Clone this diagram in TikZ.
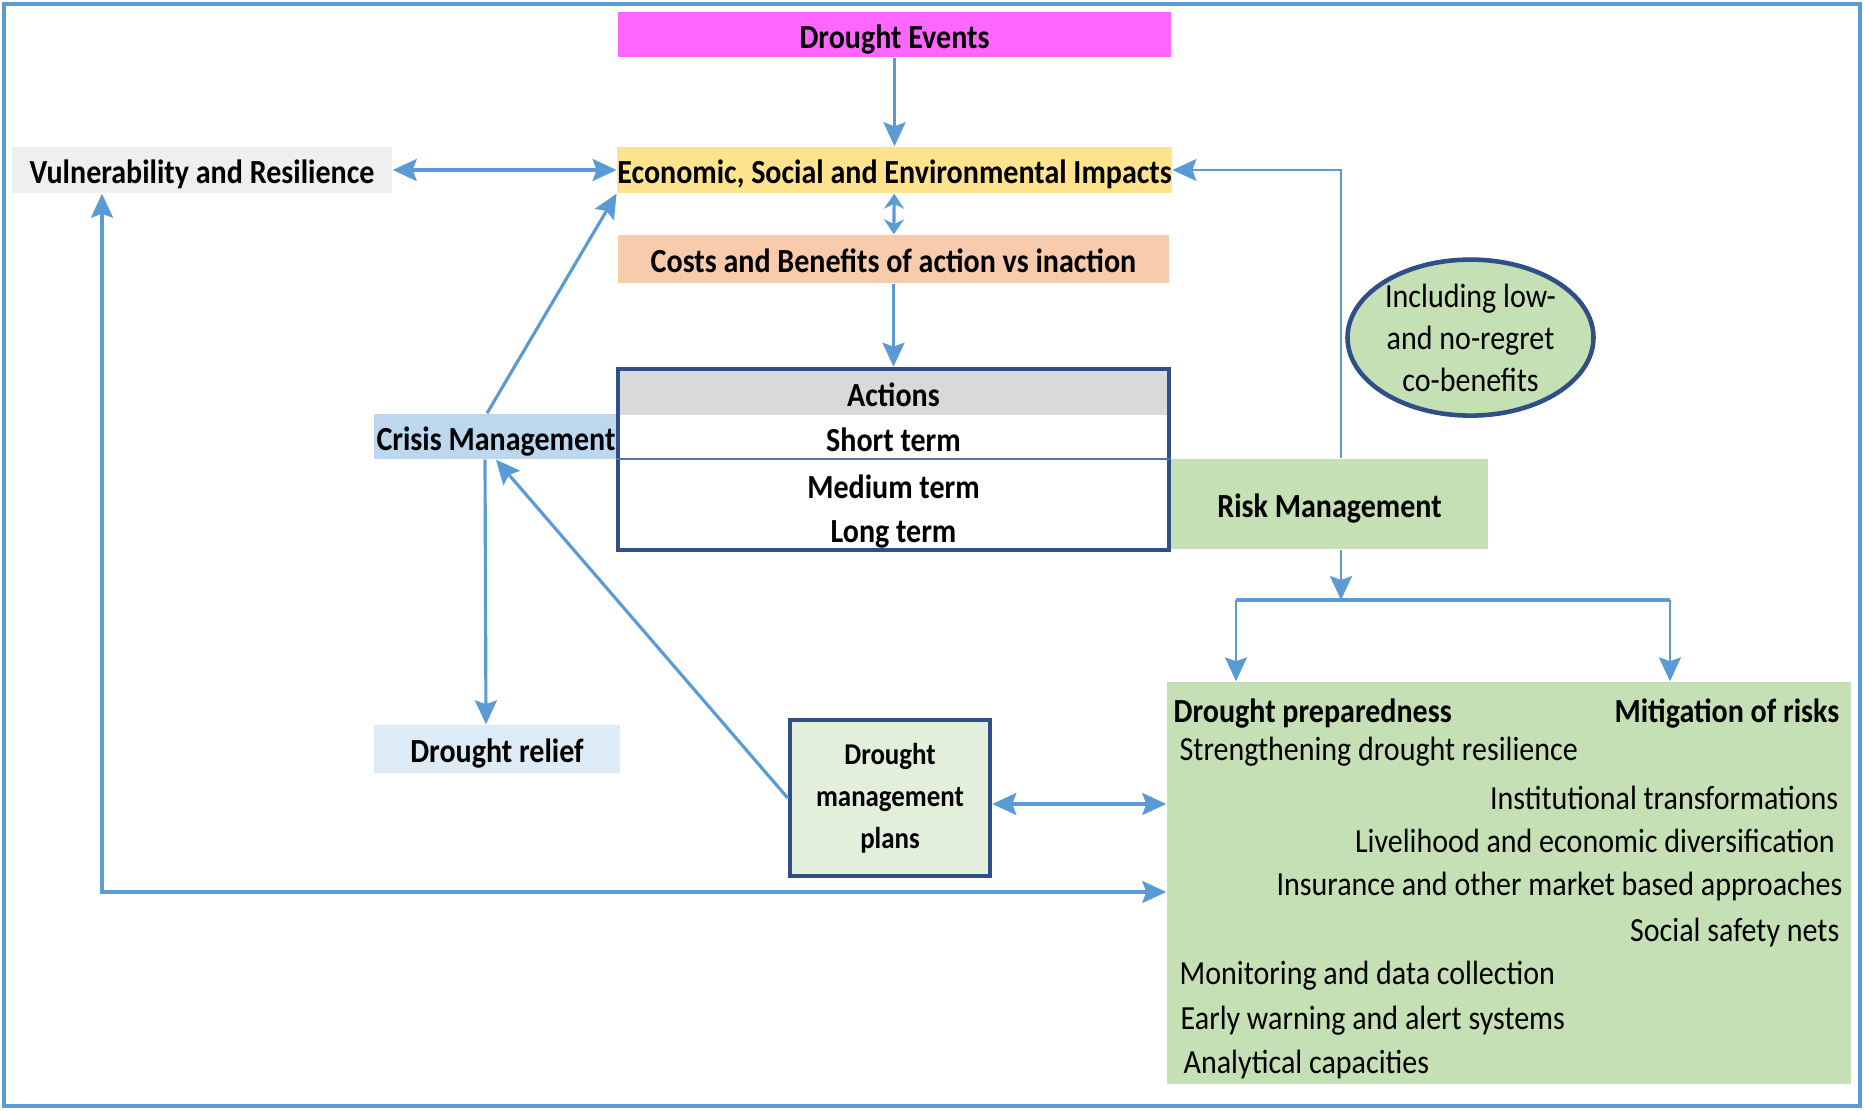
\documentclass[tikz,border=0pt]{standalone}
\usepackage{fontspec}
\setmainfont{Carlito}[FakeStretch=0.89]
\usetikzlibrary{positioning,shapes.geometric,arrows.meta}

\definecolor{frameblue}{HTML}{5B9BD5}
\definecolor{linkblue}{HTML}{5B9BD5}
\definecolor{tableblue}{HTML}{2F4F86}
\definecolor{eventpink}{HTML}{FF66FF}
\definecolor{impactyellow}{HTML}{FFE38F}
\definecolor{costsalmon}{HTML}{F8CBAD}
\definecolor{vulngray}{HTML}{EFEFEF}
\definecolor{headgray}{HTML}{D9D9D9}
\definecolor{crisisblue}{HTML}{BDD7EE}
\definecolor{reliefblue}{HTML}{DDEBF7}
\definecolor{riskgreen}{HTML}{C5E0B4}
\definecolor{plangreen}{HTML}{E2EFDA}

\begin{document}
\begin{tikzpicture}[>={Stealth[length=2.4mm,width=2.2mm,inset=0.4mm]},
    font=\fontsize{9.6}{11}\selectfont,
    tag/.style={rectangle, inner sep=0pt, text height=3.6mm, text depth=0.85mm, font=\fontsize{9.6}{11}\selectfont\bfseries},
    item/.style={inner sep=0pt},
    link/.style={draw=linkblue, line width=0.9pt},
    thinlink/.style={draw=linkblue, line width=0.6pt}]
    \useasboundingbox (0,0) rectangle (18.64,11.10);
    \draw[frameblue, line width=1.4pt] (0.04,0.04) rectangle (18.60,11.06);

    % top column
    \node (events) [tag, fill=eventpink, minimum width=5.53cm, minimum height=0.45cm] at (8.945,10.755) {Drought Events};
    \node (impacts) [tag, fill=impactyellow, minimum width=5.53cm, minimum height=0.46cm] at (8.945,9.40) {Economic, Social and Environmental Impacts};
    \node (costs) [tag, fill=costsalmon, minimum width=5.51cm, minimum height=0.48cm] at (8.935,8.51) {Costs and Benefits of action vs inaction};
    \node (vuln) [tag, fill=vulngray, minimum width=3.80cm, minimum height=0.46cm] at (2.02,9.40) {Vulnerability and Resilience};

    % actions table
    \node (crisis) [tag, fill=crisisblue, minimum width=2.44cm, minimum height=0.45cm] at (4.96,6.735) {Crisis Management};
    \node (acthead) [tag, fill=headgray, minimum width=5.51cm, minimum height=0.42cm] at (8.935,7.17) {Actions};
    \node (short) [tag] at (8.935,6.72) {Short term};
    \node (medium) [tag] at (8.935,6.25) {Medium term};
    \node (long) [tag] at (8.935,5.81) {Long term};
    \node (actions) [draw=tableblue, line width=1.3pt, minimum width=5.51cm, minimum height=1.81cm] at (8.935,6.505) {};
    \draw[tableblue!80, line width=0.5pt] (actions.west |- 0,6.51) -- (actions.east |- 0,6.51);

    \node (relief) [tag, fill=reliefblue, minimum width=2.46cm, minimum height=0.48cm] at (4.97,3.61) {Drought relief};
    \node (plans) [draw=tableblue, line width=1.3pt, fill=plangreen, minimum width=2.0cm, minimum height=1.56cm, align=center,
        font=\fontsize{8.6}{12}\selectfont\bfseries] at (8.90,3.12) {Drought\\management\\plans};

    % risk side
    \node (risk) [tag, fill=riskgreen, minimum width=3.17cm, minimum height=0.90cm] at (13.295,6.06) {Risk Management};
    \node (note) [ellipse, draw=tableblue, line width=1.3pt, fill=riskgreen, minimum width=2.46cm, minimum height=1.56cm,
        inner sep=0pt, align=center, font=\fontsize{9.6}{12}\selectfont] at (14.705,7.724) {Including low-\\and no-regret\\co-benefits};
    \node (measures) [fill=riskgreen, minimum width=6.84cm, minimum height=4.02cm] at (15.09,2.27) {};

    \node (prep) [tag, anchor=west] at (11.73,4.015) {Drought preparedness};
    \node (mitig) [tag, anchor=east] at (18.40,4.015) {Mitigation of risks};
    \node (strength) [item, anchor=west] at (11.79,3.587) {Strengthening drought resilience};
    \node (instit) [item, anchor=east] at (18.39,3.123) {Institutional transformations};
    \node (liveli) [item, anchor=east] at (18.355,2.695) {Livelihood and economic diversification};
    \node (insur) [item, anchor=east] at (18.43,2.232) {Insurance and other market based approaches};
    \node (safety) [item, anchor=east] at (18.40,1.78) {Social safety nets};
    \node (monit) [item, anchor=west] at (11.79,1.34) {Monitoring and data collection};
    \node (warn) [item, anchor=west] at (11.80,0.89) {Early warning and alert systems};
    \node (analyt) [item, anchor=west] at (11.83,0.46) {Analytical capacities};

    % connectors
    \draw[link,->] (events) -- (impacts);
    \draw[link,{Stealth[length=1.5mm,width=2mm]}-{Stealth[length=1.5mm,width=2mm]}] (impacts) -- (costs);
    \draw[link,->] (costs) -- (actions);
    \draw[link,<->] (vuln) -- (impacts);
    \draw[link,->] ([xshift=-0.9mm]crisis.north) -- (impacts.south west);
    \draw[link,->] ([xshift=-1.1mm]crisis.south) -- ([xshift=-1.1mm]relief.north);
    \draw[link,->] (plans.west) -- (crisis.south);
    \draw[link,<->] ([yshift=-0.6mm]plans.east) -- ([yshift=-0.6mm]plans.east -| measures.west);
    \coordinate (loopin) at (measures.west |- 0,2.18);
    \draw[link,<->] (vuln.south -| 1.02,0) |- (loopin);

    \draw[thinlink,->] (risk.north -| 13.41,0) |- (impacts.east);
    \coordinate (fork) at (13.41,5.10);
    \coordinate (forkl) at (12.36,5.10);
    \coordinate (forkr) at (16.70,5.10);
    \draw[thinlink,->] (risk.south -| fork) -- (fork);
    \draw[link] (forkl) -- (forkr);
    \draw[thinlink,->] (forkl) -- (forkl |- measures.north);
    \draw[thinlink,->] (forkr) -- (forkr |- measures.north);
\end{tikzpicture}
\end{document}
